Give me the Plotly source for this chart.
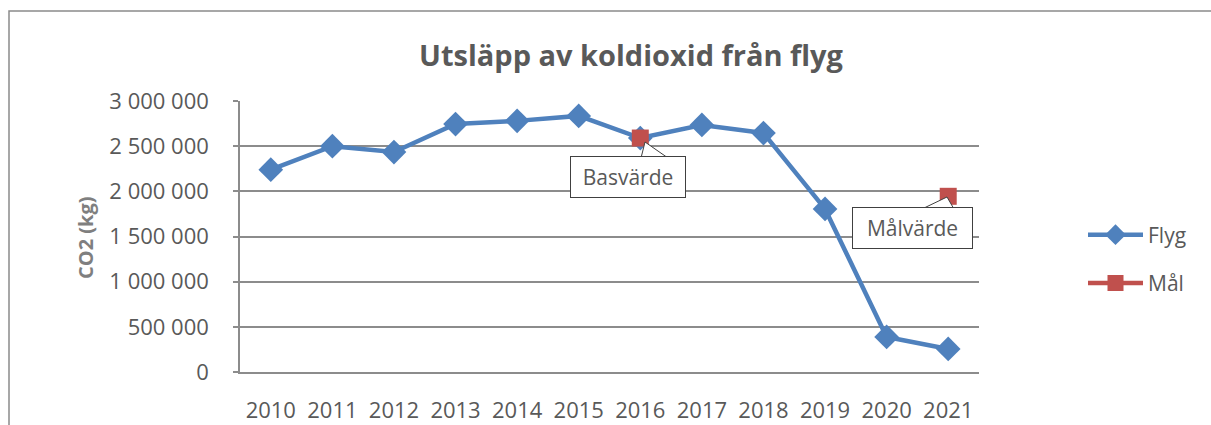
import plotly.graph_objects as go

years = ["2010", "2011", "2012", "2013", "2014", "2015", "2016", "2017", "2018", "2019", "2020", "2021"]
flyg = [2240000, 2500000, 2435000, 2745000, 2780000, 2835000, 2590000, 2735000, 2645000, 1805000, 388000, 255000]
mal = [None, None, None, None, None, None, 2590000, None, None, None, None, 1945000]
y_ticks = [0, 500000, 1000000, 1500000, 2000000, 2500000, 3000000]

W, H = 1211, 425
# plot area in window pixels: x 240..979, y 101..372
PX0, PX1, PY0, PY1 = 240, 979, 101, 372
L, R, T, B = PX0, W - PX1, PY0, H - PY1
pw = PX1 - PX0
ph = PY1 - PY0

def px(xwin):
    return (xwin - PX0) / pw

def py(ywin):
    return (PY1 - ywin) / ph

FONT = "Open Sans"
GRID = "#8c8c8c"
TXT = "#595959"
BOX = "#404040"

fig = go.Figure()
fig.add_trace(go.Scatter(
    x=years, y=flyg, name="Flyg", mode="lines+markers",
    line=dict(color="#4F81BD", width=4.5),
    marker=dict(symbol="diamond", size=19, color="#4F81BD"),
    legendgroup="a",
))
fig.add_trace(go.Scatter(
    x=years, y=mal, name="Mål", mode="lines+markers",
    line=dict(color="#C0504D", width=4.5),
    marker=dict(symbol="square", size=17, color="#C0504D"),
    connectgaps=False, legendgroup="b",
))

fig.update_layout(
    width=W, height=H,
    margin=dict(l=L, r=R, t=T, b=B, autoexpand=False),
    paper_bgcolor="white", plot_bgcolor="white",
    separators=", ",
    font=dict(family=FONT, color=TXT, size=20),
    title=dict(text="<b>Utsläpp av koldioxid från flyg</b>", x=631 / W, xanchor="center",
               y=1 - 56 / H, yanchor="middle",
               font=dict(family=FONT, size=29, color=TXT)),
    showlegend=True,
    legend=dict(x=px(1083), xanchor="left", y=py(259), yanchor="middle",
                font=dict(family=FONT, size=21, color=TXT),
                tracegroupgap=18, itemwidth=55, bgcolor="rgba(0,0,0,0)"),
    xaxis=dict(type="category", range=[-0.5, 11.5], showgrid=False,
               showline=True, linecolor=GRID, linewidth=1.5, automargin=False,
               ticks="", tickfont=dict(family=FONT, size=22, color=TXT),
               ticklabelstandoff=18),
    yaxis=dict(range=[0, 3000000], tickvals=y_ticks, tickformat=",d",
               showgrid=True, gridcolor=GRID, gridwidth=1.5, automargin=False,
               showline=True, linecolor=GRID, linewidth=1.5,
               ticks="outside", ticklen=5, tickcolor=GRID, tickwidth=1.5,
               tickfont=dict(family=FONT, size=22, color=TXT),
               ticklabelstandoff=20, zeroline=False),
)

fig.add_annotation(text="<b>CO2 (kg)</b>", xref="paper", yref="paper",
                   x=px(85), y=py(238), textangle=-90, showarrow=False,
                   font=dict(family=FONT, size=20, color="#7f7f7f"),
                   xanchor="center", yanchor="middle")

# callout wedges (pointer of the label boxes)
def wedge(pts):
    d = "M " + " L ".join(f"{px(x):.5f},{py(y):.5f}" for x, y in pts) + " Z"
    fig.add_shape(type="path", xref="paper", yref="paper", path=d,
                  fillcolor="white", line=dict(color=BOX, width=1), layer="above")

wedge([(641, 158), (645, 142), (668, 158)])
wedge([(922, 209), (947, 197), (954, 209)])

fig.add_annotation(text="Basvärde", xref="paper", yref="paper",
                   x=px(628), y=py(177), xanchor="center", yanchor="middle",
                   showarrow=False, width=104, height=30,
                   bordercolor=BOX, borderwidth=1, borderpad=5, bgcolor="white",
                   font=dict(family=FONT, size=21, color=TXT))
fig.add_annotation(text="Målvärde", xref="paper", yref="paper",
                   x=px(912.5), y=py(228), xanchor="center", yanchor="middle",
                   showarrow=False, width=109, height=30,
                   bordercolor=BOX, borderwidth=1, borderpad=5, bgcolor="white",
                   font=dict(family=FONT, size=21, color=TXT))

# outer chart frame (top and left edges visible only)
fig.add_shape(type="path", xref="paper", yref="paper",
              path=f"M {px(9):.5f},{py(440):.5f} L {px(9):.5f},{py(11):.5f} L {px(1300):.5f},{py(11):.5f}",
              line=dict(color="#8a8a8a", width=1.5), layer="below")

fig.write_html("out.html", config={"displayModeBar": False},
               post_script="document.body.style.margin='0';document.body.style.overflow='hidden';")
